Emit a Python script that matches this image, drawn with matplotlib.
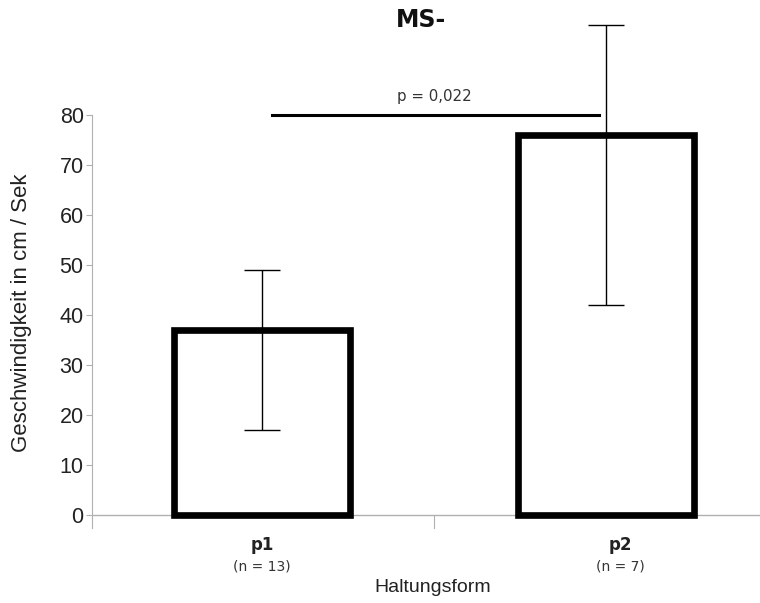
import matplotlib
matplotlib.use("Agg")
import matplotlib.pyplot as plt
import matplotlib.transforms as mtransforms
import numpy as np

categories = ["p1", "p2"]
n_labels = ["(n = 13)", "(n = 7)"]
means = [37, 76]
err_low = [17, 42]
err_high = [49, 98]
yticks = [0, 10, 20, 30, 40, 50, 60, 70, 80]
p_text = "p = 0,022"
sig_level = 80

W, H = 760, 603
fig = plt.figure(figsize=(W / 100, H / 100), dpi=100)
# axes in pixel coords: left 92, right 760, bottom 528 (y=-2.6), top 20
ax = fig.add_axes([92 / W, (H - 528) / H, (760 - 92) / W, (528 - 20) / H])
ax.set_xlim(-0.494, 1.448)
ax.set_ylim(-2.6, 99.0)

x = np.arange(len(categories))
means_a = np.array(means)
yerr = [means_a - np.array(err_low), np.array(err_high) - means_a]

ax.bar(x, means, width=0.51, color="white", edgecolor="black", linewidth=4.8, zorder=2)
ax.errorbar(x, means, yerr=yerr, fmt="none", ecolor="black", elinewidth=1.0,
            capsize=13, capthick=1.0, zorder=3)

# x-axis line at zero
ax.axhline(0, color="#b0b0b0", linewidth=1.0, zorder=1)
for s in ["top", "right", "bottom"]:
    ax.spines[s].set_visible(False)
ax.spines["left"].set_color("#b0b0b0")
ax.spines["left"].set_bounds(-2.6, 80)

ax.set_yticks(yticks)
ax.set_yticklabels([str(t) for t in yticks], fontsize=15.5, family="Liberation Sans", color="#222222")
ax.tick_params(axis="y", length=4, width=0.8, color="#b0b0b0", pad=2)
ax.set_xticks([0.5])
ax.set_xticklabels([""])
ax.tick_params(axis="x", length=0)
# middle small tick below axis line
ax.plot([0.5, 0.5], [0, -2.6], color="#b0b0b0", linewidth=0.8, clip_on=False)

trans = mtransforms.blended_transform_factory(ax.transData, fig.transFigure)
label_dx_px = [0, 14]
for i, (c, n) in enumerate(zip(categories, n_labels)):
    t = trans + mtransforms.ScaledTranslation(label_dx_px[i] / 100, 0, fig.dpi_scale_trans)
    ax.text(i, 1 - 545 / H, c, transform=t, ha="center", va="center",
            fontsize=12, fontweight="bold", family="DejaVu Sans", color="#222222")
    ax.text(i, 1 - 566 / H, n, transform=t, ha="center", va="center",
            fontsize=10, family="DejaVu Sans", color="#333333")

# significance line
ax.plot([0.03, 0.98], [sig_level, sig_level], color="black", linewidth=2.2, zorder=3)
ax.text(0.5, sig_level + 3.8, p_text, ha="center", va="center", fontsize=10.8,
        family="DejaVu Sans", color="#333333")

fig.text(421 / W, 1 - 20 / H, "MS-", ha="center", va="center", fontsize=17,
         fontweight="bold", family="DejaVu Sans", color="#111111")
fig.text(433 / W, 1 - 588 / H, "Haltungsform", ha="center", va="center",
         fontsize=14, family="Liberation Sans", color="#222222")
fig.text(22 / W, 1 - 313 / H, "Geschwindigkeit in cm / Sek", ha="center", va="center",
         rotation=90, fontsize=16, family="Liberation Sans", color="#222222")

fig.savefig("out.png", dpi=100, facecolor="white")
